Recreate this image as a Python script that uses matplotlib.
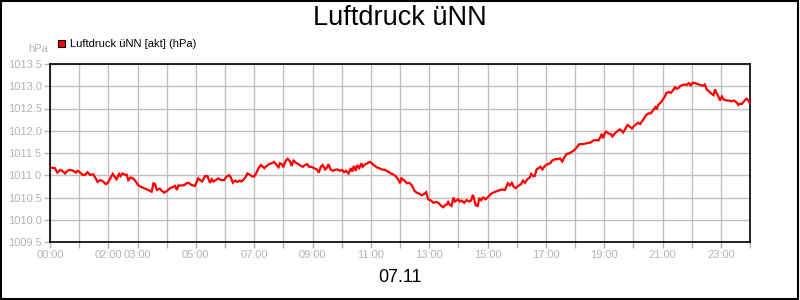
import matplotlib
matplotlib.use('Agg')
import matplotlib.pyplot as plt
import matplotlib.patches as mpatches

plt.rcParams['font.family'] = ['Liberation Sans', 'DejaVu Sans']

# ── data (minutes after midnight, hPa) ───────────────────────────────────
minutes = [
    3, 10, 15, 21, 25, 31, 36, 41, 48, 53, 57, 61, 67, 72, 77, 82, 89, 94, 98, 103,
    108, 115, 119, 123, 129, 134, 137, 142, 145, 149, 154, 158, 161, 166, 171, 175, 182, 189, 195, 202,
    209, 213, 216, 220, 226, 230, 235, 241, 247, 252, 257, 261, 264, 271, 276, 281, 285, 291, 298, 305,
    309, 313, 319, 324, 329, 333, 336, 341, 346, 352, 358, 363, 369, 372, 376, 381, 385, 391, 394, 399,
    403, 406, 410, 415, 420, 424, 429, 434, 438, 441, 446, 451, 456, 461, 466, 470, 473, 477, 480, 485,
    489, 494, 497, 501, 506, 511, 516, 520, 525, 529, 533, 538, 543, 549, 553, 557, 561, 566, 569, 573,
    577, 582, 586, 591, 597, 601, 605, 609, 614, 619, 622, 625, 629, 632, 636, 641, 643, 649, 653, 658,
    661, 666, 672, 677, 683, 689, 696, 701, 706, 712, 716, 720, 723, 729, 734, 739, 744, 750, 754, 759,
    765, 770, 774, 778, 784, 789, 794, 799, 804, 809, 813, 816, 819, 823, 826, 830, 833, 837, 840, 843,
    847, 852, 857, 862, 866, 870, 873, 876, 880, 883, 887, 891, 896, 902, 907, 912, 919, 926, 930, 936,
    942, 946, 950, 954, 958, 963, 969, 973, 977, 982, 987, 990, 994, 997, 1001, 1005, 1009, 1013, 1018, 1024,
    1029, 1033, 1039, 1044, 1049, 1054, 1058, 1063, 1068, 1072, 1077, 1080, 1089, 1097, 1104, 1111, 1118, 1123, 1128, 1133,
    1135, 1138, 1141, 1144, 1149, 1153, 1157, 1162, 1167, 1172, 1176, 1179, 1183, 1188, 1192, 1197, 1201, 1206, 1210, 1214,
    1217, 1221, 1226, 1231, 1236, 1240, 1245, 1248, 1251, 1256, 1260, 1265, 1268, 1273, 1277, 1281, 1286, 1289, 1293, 1297,
    1302, 1306, 1310, 1314, 1318, 1322, 1327, 1332, 1337, 1343, 1347, 1351, 1356, 1361, 1365, 1368, 1371, 1375, 1378, 1382,
    1385, 1389, 1392, 1397, 1402, 1407, 1413, 1416, 1419, 1423, 1426, 1430, 1433, 1437, 1440,
]
pressure = [
    1011.17, 1011.16, 1011.06, 1011.12, 1011.10, 1011.04, 1011.10, 1011.12, 1011.10, 1011.06,
    1011.10, 1011.07, 1011.01, 1011.01, 1011.07, 1011.01, 1011.02, 1010.93, 1010.85, 1010.89,
    1010.87, 1010.80, 1010.83, 1010.91, 1011.03, 1010.95, 1010.91, 1011.03, 1010.98, 1011.04,
    1011.01, 1011.01, 1010.89, 1010.95, 1010.93, 1010.88, 1010.77, 1010.73, 1010.70, 1010.67,
    1010.63, 1010.82, 1010.80, 1010.67, 1010.70, 1010.65, 1010.61, 1010.65, 1010.71, 1010.73,
    1010.76, 1010.67, 1010.77, 1010.77, 1010.78, 1010.82, 1010.83, 1010.78, 1010.76, 1010.93,
    1010.89, 1010.86, 1010.98, 1010.98, 1010.83, 1010.91, 1010.86, 1010.89, 1010.93, 1010.89,
    1010.89, 1010.97, 1011.00, 1010.95, 1010.83, 1010.88, 1010.85, 1010.88, 1010.86, 1010.91,
    1010.97, 1011.04, 1011.02, 1010.98, 1010.97, 1011.04, 1011.16, 1011.23, 1011.19, 1011.16,
    1011.21, 1011.25, 1011.27, 1011.30, 1011.23, 1011.18, 1011.27, 1011.25, 1011.18, 1011.33,
    1011.37, 1011.31, 1011.21, 1011.33, 1011.28, 1011.25, 1011.21, 1011.19, 1011.23, 1011.25,
    1011.19, 1011.19, 1011.16, 1011.13, 1011.06, 1011.19, 1011.23, 1011.13, 1011.16, 1011.25,
    1011.13, 1011.10, 1011.12, 1011.13, 1011.10, 1011.12, 1011.07, 1011.10, 1011.04, 1011.16,
    1011.08, 1011.21, 1011.10, 1011.23, 1011.16, 1011.27, 1011.19, 1011.25, 1011.27, 1011.30,
    1011.28, 1011.23, 1011.18, 1011.16, 1011.13, 1011.12, 1011.08, 1011.04, 1011.02, 1010.97,
    1010.91, 1010.82, 1010.93, 1010.88, 1010.82, 1010.83, 1010.78, 1010.65, 1010.61, 1010.59,
    1010.55, 1010.58, 1010.62, 1010.46, 1010.43, 1010.38, 1010.40, 1010.38, 1010.32, 1010.28,
    1010.33, 1010.34, 1010.40, 1010.33, 1010.31, 1010.50, 1010.41, 1010.44, 1010.46, 1010.41,
    1010.43, 1010.38, 1010.44, 1010.41, 1010.43, 1010.56, 1010.44, 1010.32, 1010.31, 1010.49,
    1010.44, 1010.50, 1010.46, 1010.52, 1010.58, 1010.61, 1010.64, 1010.67, 1010.68, 1010.67,
    1010.82, 1010.77, 1010.83, 1010.74, 1010.71, 1010.76, 1010.80, 1010.88, 1010.83, 1010.91,
    1010.95, 1011.03, 1010.98, 1010.98, 1011.13, 1011.16, 1011.19, 1011.13, 1011.21, 1011.25,
    1011.27, 1011.33, 1011.36, 1011.36, 1011.38, 1011.31, 1011.40, 1011.48, 1011.49, 1011.52,
    1011.55, 1011.58, 1011.70, 1011.70, 1011.72, 1011.73, 1011.78, 1011.79, 1011.78, 1011.87,
    1011.93, 1011.83, 1011.94, 1011.98, 1011.94, 1011.93, 1011.87, 1011.94, 1011.99, 1012.03,
    1012.00, 1011.96, 1012.03, 1012.13, 1012.10, 1012.05, 1012.10, 1012.15, 1012.18, 1012.15,
    1012.20, 1012.26, 1012.35, 1012.39, 1012.39, 1012.45, 1012.53, 1012.48, 1012.58, 1012.63,
    1012.69, 1012.77, 1012.85, 1012.87, 1012.85, 1012.90, 1012.98, 1012.94, 1012.96, 1013.01,
    1013.03, 1013.04, 1013.03, 1013.07, 1013.02, 1013.08, 1013.07, 1013.05, 1013.03, 1013.01,
    1013.04, 1012.93, 1012.88, 1012.83, 1012.80, 1012.93, 1012.85, 1012.77, 1012.68, 1012.77,
    1012.71, 1012.69, 1012.68, 1012.68, 1012.66, 1012.68, 1012.63, 1012.58, 1012.61, 1012.60,
    1012.64, 1012.69, 1012.72, 1012.68, 1012.61,
]

y_ticks = [1009.5, 1010.0, 1010.5, 1011.0, 1011.5, 1012.0, 1012.5, 1013.0, 1013.5]
x_label_hours = [0, 2, 3, 5, 7, 9, 11, 13, 15, 17, 19, 21, 23]

TITLE = 'Luftdruck üNN'
SERIES = 'Luftdruck üNN [akt] (hPa)'
UNIT = 'hPa'
DATE = '07.11'

GRID = '#c0c0c0'
TICK_FG = '#b4b4b4'
LINE = '#ff0000'

# ── figure ────────────────────────────────────────────────────────────────
fig = plt.figure(figsize=(8, 3), dpi=100)
fig.patch.set_facecolor('white')
fig.add_artist(mpatches.Rectangle((0.001, 0.002), 0.997, 0.995, transform=fig.transFigure,
                                  fill=False, edgecolor='black', linewidth=1.5))

ax = fig.add_axes([50 / 800, 58 / 300, 700 / 800, 178 / 300])
ax.plot(minutes, pressure, color=LINE, linewidth=1.6, solid_joinstyle='miter', zorder=3)

ax.set_xlim(0, 1440)
ax.set_ylim(1009.5, 1013.5)
ax.set_xticks(range(0, 1441, 60))
ax.set_xticklabels(['%02d:00' % (m // 60) if (m // 60) in x_label_hours and m < 1440 else ''
                    for m in range(0, 1441, 60)])
ax.set_yticks(y_ticks)
ax.set_yticklabels(['%.1f' % v for v in y_ticks])
ax.grid(True, color=GRID, linewidth=1.0)
ax.set_axisbelow(True)
ax.tick_params(axis='both', colors=TICK_FG, labelcolor=TICK_FG, labelsize=8,
               length=4, width=1.0, pad=2)
for s in ax.spines.values():
    s.set_color('black')
    s.set_linewidth(1.2)

# ── texts ─────────────────────────────────────────────────────────────────
fig.text(0.5, 1 - 18 / 300, TITLE, ha='center', va='center', fontsize=19.5, color='black')
fig.text(0.5, 1 - 277 / 300, DATE, ha='center', va='center', fontsize=13, color='black')
fig.text(48 / 800, 1 - 49 / 300, UNIT, ha='right', va='center', fontsize=8, color=TICK_FG)
fig.add_artist(mpatches.Rectangle((58 / 800, 1 - 47 / 300), 7 / 800, 7 / 300, transform=fig.transFigure,
                                  facecolor=LINE, edgecolor='black', linewidth=0.8))
fig.text(70 / 800, 1 - 44 / 300, SERIES, ha='left', va='center', fontsize=8, color='black')

fig.savefig('out.png', dpi=100, facecolor='white')
